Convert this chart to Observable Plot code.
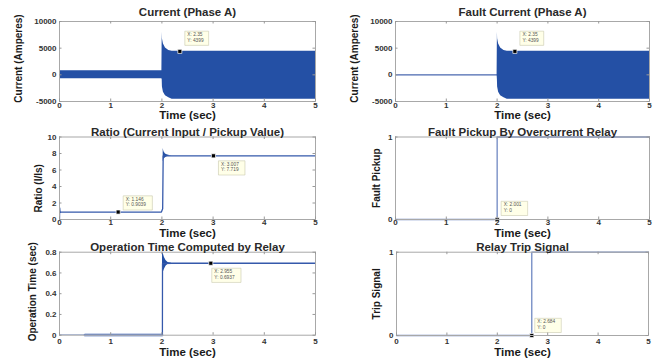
<!DOCTYPE html>
<html><head><meta charset="utf-8">
<script src="https://cdn.jsdelivr.net/npm/d3@7"></script>
<script src="https://cdn.jsdelivr.net/npm/@observablehq/plot@0.6"></script>
<style>
body{margin:0;background:#fff;}
#chart{position:relative;width:672px;height:360px;overflow:hidden;background:#fff;font-family:"Liberation Sans",Arial,sans-serif;}
#chart svg{position:absolute;}
</style></head><body><div id="chart"></div>
<script>
// ---------------- data ----------------
const timeTicks = [0, 1, 2, 3, 4, 5];
const currentTicks = [-5000, 0, 5000, 10000];
const ratioTicks = [0, 2, 4, 6, 8, 10];
const binaryTicks = [0, 1];
const opTimeTicks = [0, 0.2, 0.4, 0.6, 0.8];

// Current (Phase A): upper / lower peak envelope of the waveform
const phaseT  = [0, 2.0, 2.006, 2.01, 2.03, 2.07, 2.135, 2.2, 5];
const phaseHi = [750, 750, 8000, 6750, 5800, 5050, 4560, 4400, 4400];
const phaseLo = [-750, -750, -900, -2300, -3250, -3900, -4320, -4570, -4600];

// Fault current (Phase A)
const preFaultT = [0, 2.0];
const preFaultI = [0, 0];
const faultT  = [2.0, 2.006, 2.01, 2.03, 2.07, 2.135, 2.2, 5];
const faultHi = [0, 8000, 6750, 5800, 5050, 4560, 4400, 4400];
const faultLo = [0, -900, -2300, -3250, -3900, -4320, -4570, -4600];

// Ratio (I/Is)
const ratioT = [0, 0.004, 0.012, 0.03, 1.99, 2.015, 2.025, 2.2, 5];
const ratioV = [0, 1.4, 0.85, 0.9, 0.9, 1.3, 7.7, 7.719, 7.719];
const ratioOscT  = [2.025, 2.04, 2.07, 2.1, 2.15, 2.2];
const ratioOscHi = [8.6, 8.2, 7.95, 7.85, 7.76, 7.72];
const ratioOscLo = [7.0, 7.3, 7.5, 7.62, 7.69, 7.72];

// Fault pickup
const pickupT = [0, 2.001, 2.001, 5];
const pickupV = [0, 0, 1, 1];

// Operation time
const opT = [0, 2.01, 2.012, 2.2, 5];
const opV = [0, 0, 0.69, 0.6937, 0.6937];
const opBandT = [0.5, 2.0];
const opBandV = [0.003, 0.003];
const opOscT  = [2.012, 2.03, 2.05, 2.08, 2.12, 2.2];
const opOscHi = [0.82, 0.78, 0.75, 0.72, 0.70, 0.694];
const opOscLo = [0.58, 0.61, 0.635, 0.665, 0.685, 0.693];

// Relay trip
const tripT = [0, 2.684, 2.684, 5];
const tripV = [0, 0, 1, 1];

// Data tips
const currentTipX = [2.35], currentTipY = [4399];
const faultTipX = [2.35], faultTipY = [4399];
const ratioTipX = [1.146, 3.007], ratioTipY = [0.9039, 7.719];
const pickupTipX = [2.001], pickupTipY = [0];
const opTipX = [2.955], opTipY = [0.6937];
const tripTipX = [2.684], tripTipY = [0];

// ---------------- helpers ----------------
const FONT = "Liberation Sans, Arial, sans-serif";
const BLUE = "#2450a5";
const zip2 = (t, v) => t.map((x, i) => ({t: x, v: v[i]}));
const zip3 = (t, lo, hi) => t.map((x, i) => ({t: x, lo: lo[i], hi: hi[i]}));
const pts = (xs, ys) => xs.map((x, i) => ({x, y: ys[i]}));

// MATLAB-like data tip: a small pale box offset from a square marker
function tipMarks(xs, ys, below, dx, dy) {
  const d = pts(xs, ys);
  const FS = 4.8, LH = 5.6;
  const maxLen = Math.max(...d.map(p => Math.max(`X: ${p.x}`.length, `Y: ${p.y}`.length)));
  const w = maxLen * FS * 0.56 + 5, h = 2 * LH + 3;
  const top = below ? dy : dy - h;
  const box = {draw(ctx) { ctx.rect(dx, top, w, h); }};
  return [
    Plot.dot(d, {x: "x", y: "y", symbol: box, fill: "#ffffe8", stroke: "#c9c9ae", strokeWidth: 0.6}),
    Plot.text(d, {x: "x", y: "y", text: p => `X: ${p.x}`, dx: dx + 2.5, dy: top + 1.6, lineAnchor: "top",
      textAnchor: "start", fontSize: FS, fill: "#555", fontFamily: FONT}),
    Plot.text(d, {x: "x", y: "y", text: p => `Y: ${p.y}`, dx: dx + 2.5, dy: top + 1.6 + LH, lineAnchor: "top",
      textAnchor: "start", fontSize: FS, fill: "#555", fontFamily: FONT}),
    Plot.dot(d, {x: "x", y: "y", symbol: "square", r: 2.3, fill: "#000", stroke: "#fff", strokeWidth: 0.7})
  ];
}

function panel(cfg) {
  const {left, top, width, height, frame, yDomain, yTicks, yFmt, title, ylabel,
         titleOff, tickPad, xlabOff, ylabDx, ylabDy, marks} = cfg;
  const fw = frame.r - frame.l, fh = frame.b - frame.t;
  const svg = Plot.plot({
    width, height,
    marginLeft: frame.l - left, marginRight: left + width - frame.r,
    marginTop: frame.t - top, marginBottom: top + height - frame.b,
    x: {domain: [0, 5]},
    y: {domain: yDomain},
    style: {background: "transparent", overflow: "visible", fontFamily: FONT},
    marks: [
      ...marks,
      Plot.frame({stroke: "#a8a8a8"}),
      Plot.tickX(timeTicks, {x: d => d, stroke: "#999", insetTop: fh - 2.5}),
      Plot.tickX(timeTicks, {x: d => d, stroke: "#999", insetBottom: fh - 2.5}),
      Plot.tickY(yTicks, {y: d => d, stroke: "#999", insetRight: fw - 2.5}),
      Plot.tickY(yTicks, {y: d => d, stroke: "#999", insetLeft: fw - 2.5}),
      Plot.axisX(timeTicks, {tickSize: 0, tickPadding: tickPad, fontSize: 8, fontWeight: "bold",
        color: "#333", label: null, fontFamily: FONT}),
      Plot.axisY(yTicks, {tickSize: 0, tickPadding: 3, tickFormat: yFmt, fontSize: 8, fontWeight: "bold",
        color: "#333", label: null, fontFamily: FONT}),
      Plot.text([title], {frameAnchor: "top", dy: -titleOff, text: d => d, fontSize: 11.5,
        fontWeight: "bold", fill: "#2a2a2a", lineAnchor: "middle", textAnchor: "middle", fontFamily: FONT}),
      Plot.text(["Time (sec)"], {frameAnchor: "bottom", dy: xlabOff, text: d => d, fontSize: 11.5,
        fontWeight: "bold", fill: "#1a1a1a", lineAnchor: "middle", textAnchor: "middle", fontFamily: FONT}),
      Plot.text([ylabel], {frameAnchor: "left", dx: -ylabDx, dy: ylabDy, rotate: -90, text: d => d,
        fontSize: 10, fontWeight: "bold", fill: "#1a1a1a", lineAnchor: "middle", textAnchor: "middle",
        fontFamily: FONT})
    ]
  });
  svg.style.left = left + "px";
  svg.style.top = top + "px";
  document.getElementById("chart").appendChild(svg);
}

const fmtInt = d => String(d);
const fmtOp = d => d === 0 ? "0" : d.toFixed(1);

// ---------------- panels ----------------
panel({left: 0, top: 0, width: 336, height: 118, frame: {l: 59, r: 315, t: 21, b: 101},
  yDomain: [-5000, 10000], yTicks: currentTicks, yFmt: fmtInt, title: "Current (Phase A)",
  ylabel: "Current (Amperes)", titleOff: 9, tickPad: 1, xlabOff: 13.5, ylabDx: 41, ylabDy: -3,
  marks: [
    Plot.areaY(zip3(phaseT, phaseLo, phaseHi), {x: "t", y1: "lo", y2: "hi", fill: BLUE, clip: true}),
    ...tipMarks(currentTipX, currentTipY, false, 5, -6)
  ]});

panel({left: 336, top: 0, width: 336, height: 118, frame: {l: 395, r: 649, t: 21, b: 101},
  yDomain: [-5000, 10000], yTicks: currentTicks, yFmt: fmtInt, title: "Fault Current (Phase A)",
  ylabel: "Current (Amperes)", titleOff: 9, tickPad: 1, xlabOff: 13.5, ylabDx: 41, ylabDy: -3,
  marks: [
    Plot.line(zip2(preFaultT, preFaultI), {x: "t", y: "v", stroke: "#4a68b0", strokeWidth: 1.2}),
    Plot.areaY(zip3(faultT, faultLo, faultHi), {x: "t", y1: "lo", y2: "hi", fill: BLUE, clip: true}),
    ...tipMarks(faultTipX, faultTipY, false, 5, -6)
  ]});

panel({left: 0, top: 118, width: 336, height: 118, frame: {l: 59, r: 315, t: 136.5, b: 219},
  yDomain: [0, 10], yTicks: ratioTicks, yFmt: fmtInt, title: "Ratio (Current Input / Pickup Value)",
  ylabel: "Ratio (I/Is)", titleOff: 5, tickPad: 0, xlabOff: 13.5, ylabDx: 21, ylabDy: 10,
  marks: [
    Plot.areaY(zip3(ratioOscT, ratioOscLo, ratioOscHi), {x: "t", y1: "lo", y2: "hi", fill: BLUE, clip: true}),
    Plot.line(zip2(ratioT, ratioV), {x: "t", y: "v", stroke: "#3559ab", strokeWidth: 1.3, clip: true}),
    ...tipMarks([ratioTipX[0]], [ratioTipY[0]], false, 5, -2),
    ...tipMarks([ratioTipX[1]], [ratioTipY[1]], true, 5, 5)
  ]});

panel({left: 336, top: 118, width: 336, height: 118, frame: {l: 395, r: 649, t: 136.5, b: 219},
  yDomain: [0, 1], yTicks: binaryTicks, yFmt: fmtInt, title: "Fault Pickup By Overcurrent Relay",
  ylabel: "Fault Pickup", titleOff: 5, tickPad: 0, xlabOff: 13.5, ylabDx: 19, ylabDy: 0,
  marks: [
    Plot.line(zip2(pickupT, pickupV), {x: "t", y: "v", stroke: "#7088c2", strokeWidth: 1.3}),
    ...tipMarks(pickupTipX, pickupTipY, false, 4, -4)
  ]});

panel({left: 0, top: 236, width: 336, height: 124, frame: {l: 59, r: 315, t: 251.7, b: 334.7},
  yDomain: [0, 0.8], yTicks: opTimeTicks, yFmt: fmtOp, title: "Operation Time Computed by Relay",
  ylabel: "Operation Time (sec)", titleOff: 5, tickPad: 3, xlabOff: 17, ylabDx: 27, ylabDy: -2,
  marks: [
    Plot.line(zip2(opBandT, opBandV), {x: "t", y: "v", stroke: "#8fa5d6", strokeWidth: 3}),
    Plot.areaY(zip3(opOscT, opOscLo, opOscHi), {x: "t", y1: "lo", y2: "hi", fill: BLUE, clip: true}),
    Plot.line(zip2(opT, opV), {x: "t", y: "v", stroke: "#3559ab", strokeWidth: 1.3, clip: true}),
    ...tipMarks(opTipX, opTipY, true, 1, 5)
  ]});

panel({left: 336, top: 236, width: 336, height: 124, frame: {l: 396, r: 648, t: 251.7, b: 335},
  yDomain: [0, 1], yTicks: binaryTicks, yFmt: fmtInt, title: "Relay Trip Signal",
  ylabel: "Trip Signal", titleOff: 5, tickPad: 3, xlabOff: 17, ylabDx: 20, ylabDy: 0,
  marks: [
    Plot.line(zip2(tripT, tripV), {x: "t", y: "v", stroke: "#7088c2", strokeWidth: 1.3}),
    ...tipMarks(tripTipX, tripTipY, false, 3, -3)
  ]});
</script></body></html>
